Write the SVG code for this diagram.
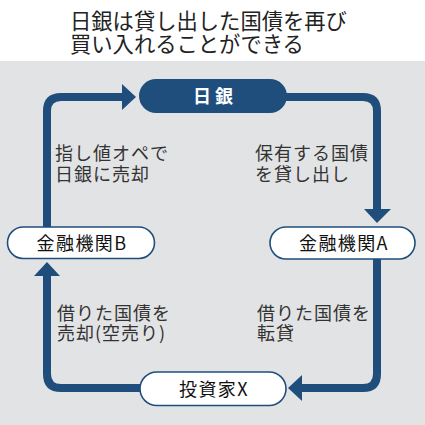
<svg xmlns="http://www.w3.org/2000/svg" width="425" height="425" viewBox="0 0 425 425">
<style>
.title{font-family:"Noto Sans CJK JP","Noto Sans",sans-serif;font-size:21.3px;fill:#222}
.lbl{font-family:"Noto Sans CJK JP","Noto Sans",sans-serif;font-size:18px;letter-spacing:1px;fill:#333}
.ntxt{font-family:"Noto Sans CJK JP","Noto Sans",sans-serif;font-size:18px;letter-spacing:1.4px;fill:#111;text-anchor:middle}
.pill{fill:#fff;stroke:#1f4e7d;stroke-width:1.6}
.line{fill:none;stroke:#1f4e7d;stroke-width:8}
.head{fill:#1f4e7d}
</style>
<rect x="0" y="0" width="425" height="425" fill="#fff"/>
<rect x="0" y="61" width="425" height="364" fill="#e2e3e5"/>
<g id="title">
<text class="title"><tspan x="70" y="29">日銀は貸し出した国債を再び</tspan><tspan x="70" y="52">買い入れることができる</tspan></text>
</g>
<g id="connectors">
<path class="line" d="M47,228 V111 Q47,97 61,97 H124"/>
<polygon class="head" points="122,84 136,97 122,110"/>
<path class="line" d="M286,97 H363 Q377,97 377,111 V211"/>
<polygon class="head" points="364,209 391,209 377,223"/>
<path class="line" d="M377,258 V374 Q377,388 363,388 H301"/>
<polygon class="head" points="302,375 302,401 288,388"/>
<path class="line" d="M141,388 H61 Q47,388 47,374 V274"/>
<polygon class="head" points="34,276 60,276 47,262"/>
</g>
<g id="label1"><text class="lbl"><tspan x="55" y="160">指し値オペで</tspan><tspan x="55" y="181">日銀に売却</tspan></text></g>
<g id="label2"><text class="lbl"><tspan x="255" y="160">保有する国債</tspan><tspan x="255" y="181">を貸し出し</tspan></text></g>
<g id="label3"><text class="lbl"><tspan x="57" y="320">借りた国債を</tspan><tspan x="57" y="340">売却(空売り)</tspan></text></g>
<g id="label4"><text class="lbl"><tspan x="257" y="320">借りた国債を</tspan><tspan x="257" y="340">転貸</tspan></text></g>
<g id="node-boj">
<rect x="139" y="79" width="148" height="34" rx="17" fill="#1f4e7d"/>
<text x="213" y="103" style="font-family:'Noto Sans CJK JP','Noto Sans',sans-serif;font-size:18px;font-weight:bold;fill:#fff;text-anchor:middle">日 銀</text>
</g>
<g id="node-b">
<rect class="pill" x="7.5" y="227" width="147" height="31.5" rx="15.75"/>
<text class="ntxt" x="82" y="250">金融機関B</text>
</g>
<g id="node-a">
<rect class="pill" x="270" y="227" width="145" height="32" rx="16"/>
<text class="ntxt" x="344" y="250">金融機関A</text>
</g>
<g id="node-x">
<rect class="pill" x="140" y="372" width="146" height="33.5" rx="16.75"/>
<text class="ntxt" x="214" y="396">投資家X</text>
</g>
</svg>
